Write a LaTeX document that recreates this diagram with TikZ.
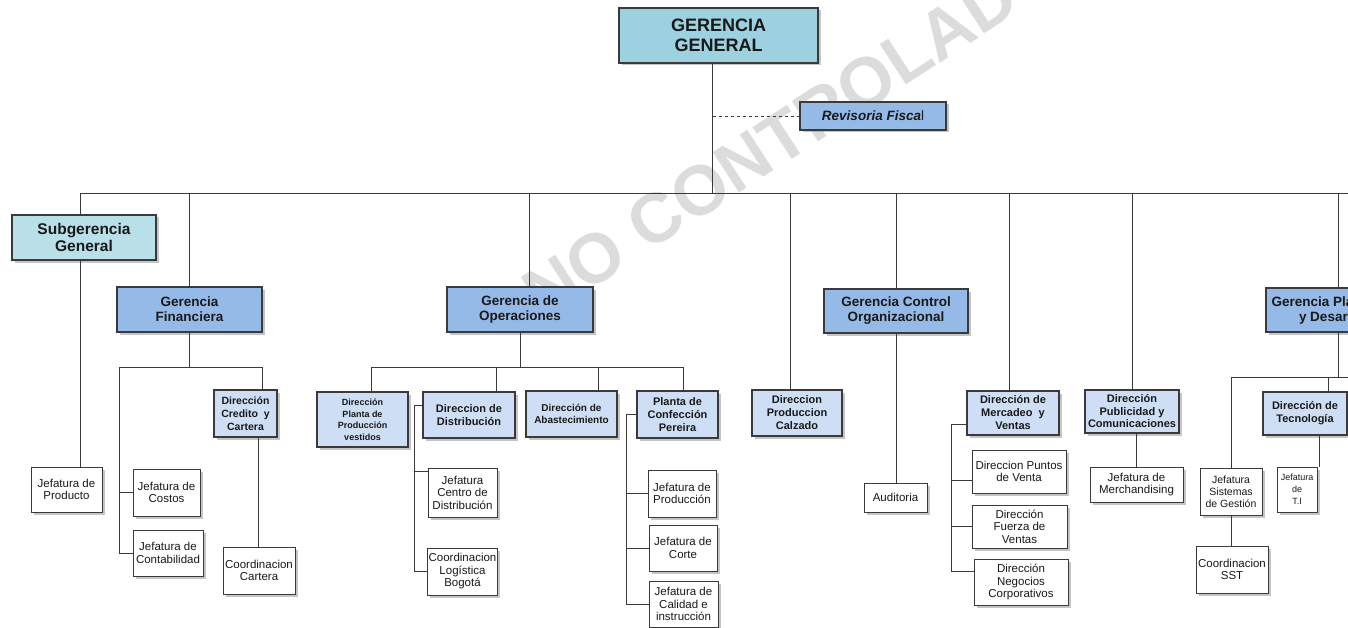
\documentclass[tikz,border=0pt]{standalone}
\usepackage{fontspec}
\setmainfont{Liberation Sans}
\usetikzlibrary{shadows}
\definecolor{OrgCyan}{HTML}{9DD1DF}
\definecolor{OrgCyanLight}{HTML}{B9DFE9}
\definecolor{OrgBlue}{HTML}{95BAE8}
\definecolor{OrgPale}{HTML}{CEDFF5}
\definecolor{OrgLine}{HTML}{3A3A3A}
\definecolor{OrgMark}{HTML}{DCDCDC}

\begin{document}
\begin{tikzpicture}[x=1pt, y=-1pt,
  unit/.style={draw=OrgLine, line width=1.1pt, align=center, inner sep=1pt,
               text=black!90,
               drop shadow={shadow xshift=2.5pt, shadow yshift=-2.5pt, fill=black!45}},
  headbox/.style={unit, fill=OrgCyan, line width=1.6pt,
                  font=\bfseries\fontsize{18}{20}\selectfont},
  subbox/.style={unit, fill=OrgCyanLight, line width=1.3pt,
                 font=\bfseries\fontsize{15.5}{17.5}\selectfont},
  gerbox/.style={unit, fill=OrgBlue, line width=1.3pt,
                 font=\bfseries\fontsize{13.5}{15}\selectfont},
  dirbox/.style={unit, fill=OrgPale, line width=1.2pt,
                 font=\bfseries\fontsize{11}{13}\selectfont},
  jefbox/.style={unit, fill=white, line width=1pt,
                 font=\fontsize{11.5}{12.5}\selectfont},
  tree/.style={draw=OrgLine, line width=0.9pt},
  watermark/.style={text=OrgMark, font=\bfseries\fontsize{70}{70}\selectfont}
]
\useasboundingbox (0,0) rectangle (1348,628);
\clip (0,0) rectangle (1348,628);

% watermark
\node[watermark, rotate=33] (wm) at (793,130) {NO CONTROLADO};

% top level
\node[headbox, minimum width=199pt, minimum height=55pt] (gg) at (718.5,35.5) {GERENCIA\\GENERAL};
\node[gerbox, minimum width=146pt, minimum height=28pt,
      font=\bfseries\itshape\fontsize{13.5}{15}\selectfont] (rf) at (873,116)
  {Revisoria Fisca{\upshape\mdseries l}};

% second level
\node[subbox, minimum width=144pt, minimum height=45pt] (sub) at (84,237.5) {Subgerencia\\General};
\node[gerbox, minimum width=145pt, minimum height=45pt] (fin) at (189.5,309.5) {Gerencia\\Financiera};
\node[gerbox, minimum width=146pt, minimum height=45pt] (ops) at (520,309.5) {Gerencia de\\Operaciones};
\node[gerbox, minimum width=144pt, minimum height=44pt] (ctl) at (896,311) {Gerencia Control\\Organizacional};
\node[gerbox, minimum width=144pt, minimum height=44pt] (gpd) at (1338,310) {Gerencia Planeación\\y Desarrollo};

% direcciones
\node[dirbox, minimum width=63pt, minimum height=47pt,
      font=\bfseries\fontsize{10.5}{13}\selectfont] (cred) at (245.5,413.5) {Dirección\\Credito \ y\\Cartera};
\node[dirbox, minimum width=91pt, minimum height=55pt,
      font=\bfseries\fontsize{9}{11.5}\selectfont] (vest) at (362.5,419.5) {Dirección\\Planta de\\Producción\\vestidos};
\node[dirbox, minimum width=92pt, minimum height=46pt] (dist) at (469,415) {Direccion de\\Distribución};
\node[dirbox, minimum width=91pt, minimum height=46pt,
      font=\bfseries\fontsize{10}{12}\selectfont] (abas) at (571.5,414) {Dirección de\\Abastecimiento};
\node[dirbox, minimum width=81pt, minimum height=47pt] (plc) at (677.5,414.5) {Planta de\\Confección\\Pereira};
\node[dirbox, minimum width=90pt, minimum height=46pt] (calz) at (797,413) {Direccion\\Produccion\\Calzado};
\node[dirbox, minimum width=92pt, minimum height=44pt] (mer) at (1013,413) {Dirección de\\Mercadeo \ y\\Ventas};
\node[dirbox, minimum width=94pt, minimum height=43pt,
      font=\bfseries\fontsize{11}{12.5}\selectfont] (pub) at (1132,411.5) {Dirección\\Publicidad y\\Comunicaciones};
\node[dirbox, minimum width=84pt, minimum height=43pt] (tec) at (1305,413.5) {Dirección de\\Tecnología};

% jefaturas y coordinaciones
\node[jefbox, minimum width=71pt, minimum height=45pt] (prod) at (66.5,489.5) {Jefatura de\\Producto};
\node[jefbox, minimum width=67pt, minimum height=47pt] (cos) at (166.5,492.5) {Jefatura de\\Costos};
\node[jefbox, minimum width=70pt, minimum height=46pt] (cont) at (168,553) {Jefatura de\\Contabilidad};
\node[jefbox, minimum width=72pt, minimum height=47pt] (cart) at (259,570.5) {Coordinacion\\Cartera};
\node[jefbox, minimum width=69pt, minimum height=49pt] (jcd) at (462.5,492.5) {Jefatura\\Centro de\\Distribución};
\node[jefbox, minimum width=69pt, minimum height=47pt] (clb) at (462.5,571.5) {Coordinacion\\Logística\\Bogotá};
\node[jefbox, minimum width=68pt, minimum height=47pt] (jpr) at (682,493.5) {Jefatura de\\Producción};
\node[jefbox, minimum width=68pt, minimum height=46pt] (jco) at (683,548) {Jefatura de\\Corte};
\node[jefbox, minimum width=69pt, minimum height=46pt] (jca) at (683.5,604) {Jefatura de\\Calidad e\\instrucción};
\node[jefbox, minimum width=63pt, minimum height=29pt] (aud) at (895.5,497.5) {Auditoria};
\node[jefbox, minimum width=94pt, minimum height=43pt] (pun) at (1019,471.5) {Direccion Puntos\\de Venta};
\node[jefbox, minimum width=95pt, minimum height=43pt] (fue) at (1019.5,526.5) {Dirección\\Fuerza de\\Ventas};
\node[jefbox, minimum width=94pt, minimum height=46pt] (neg) at (1021,582) {Dirección\\Negocios\\Corporativos};
\node[jefbox, minimum width=93pt, minimum height=35pt] (mch) at (1136.5,484.5) {Jefatura de\\Merchandising};
\node[jefbox, minimum width=62pt, minimum height=47pt,
      font=\fontsize{10.5}{12}\selectfont] (sis) at (1231,491.5) {Jefatura\\Sistemas\\de Gestión};
\node[jefbox, minimum width=40pt, minimum height=45pt,
      font=\fontsize{9}{12}\selectfont] (ti) at (1297,489.5) {Jefatura\\de\\T.I};
\node[jefbox, minimum width=72pt, minimum height=47pt] (sst) at (1232,569.5) {Coordinacion\\SST};

% bars and drop points
\coordinate (bus) at (0,193);
\coordinate (busend) at (1360,193);
\coordinate (lowbar) at (0,367);
\coordinate (gpdbar) at (0,377);
\coordinate (gpdend) at (1360,377);
\coordinate (ggd) at ([xshift=-6pt]gg.south);
\coordinate (subd) at ([xshift=-4pt]sub.north);
\coordinate (opsd) at ([xshift=9pt]ops.north);
\coordinate (calzd) at ([xshift=-7pt]calz.north);
\coordinate (merd) at ([xshift=-4pt]mer.north);
\coordinate (finl) at ([xshift=-70pt]fin.south |- lowbar);
\coordinate (finr) at ([xshift=16.5pt]cred.north |- lowbar);
\coordinate (credd) at ([xshift=12.5pt]cred.south);
\coordinate (vestd) at ([xshift=8.5pt]vest.north);
\coordinate (distd) at ([xshift=27pt]dist.north);
\coordinate (abasd) at ([xshift=26.5pt]abas.north);
\coordinate (plcd) at ([xshift=5.5pt]plc.north);
\coordinate (distk) at ([xshift=-8pt,yshift=10pt]dist.west);
\coordinate (plck) at ([xshift=-10pt]plc.west);
\coordinate (merk) at ([xshift=-15pt,yshift=-11pt]mer.west);
\coordinate (tecd) at ([xshift=23pt]tec.north);
\coordinate (tecs) at ([xshift=14pt]tec.south);

% top connectors
\draw[tree] (gg.south -| ggd) -- (ggd |- bus);
\draw[tree, dashed] (ggd |- rf.west) -- (rf.west);
\draw[tree] (subd |- bus) -- (busend);
\foreach \n in {subd, fin.north, opsd, calzd, ctl.north, merd, pub.north, gpd.north}
  \draw[tree] (\n |- bus) -- (\n);

% Subgerencia
\draw[tree] (sub.south -| subd) -- (subd |- prod.north);

% Financiera
\draw[tree] (fin.south) -- (fin.south |- lowbar);
\draw[tree] (finl) -- (finr) -- (finr |- cred.north);
\draw[tree] (finl) |- (cont.west);
\draw[tree] (finl |- cos.west) -- (cos.west);
\draw[tree] (credd) -- (credd |- cart.north);

% Operaciones
\draw[tree] (ops.south) -- (ops.south |- lowbar);
\draw[tree] (vestd |- lowbar) -- (plcd |- lowbar);
\foreach \n in {vestd, distd, abasd, plcd}
  \draw[tree] (\n |- lowbar) -- (\n);
\draw[tree] ([yshift=10pt]dist.west) -- (distk) |- (clb.west);
\draw[tree] (distk |- jcd.north) ++(0,4) coordinate (jcdt) -- (jcdt -| jcd.west);
\draw[tree] (plc.west) -- (plck) |- (jca.west);
\draw[tree] (plck |- jpr.west) -- (jpr.west);
\draw[tree] (plck |- jco.west) -- (jco.west);

% Control Organizacional
\draw[tree] (ctl.south) -- (ctl.south |- aud.north);

% Mercadeo y Publicidad
\draw[tree] ([yshift=-11pt]mer.west) -- (merk) |- ([yshift=11pt]neg.west);
\draw[tree] (merk |- pun.west) ++(0,8.5) coordinate (punt) -- (punt -| pun.west);
\draw[tree] (merk |- fue.west) -- (fue.west);
\draw[tree] (mch.north |- pub.south) -- (mch.north);

% Planeacion y Desarrollo
\draw[tree] (gpd.south) -- (gpd.south |- gpdbar);
\draw[tree] (sis.north |- gpdbar) -- (gpdend);
\draw[tree] (sis.north |- gpdbar) -- (sis.north);
\draw[tree] (tecd |- gpdbar) -- (tecd);
\draw[tree] (tecs) -- (tecs |- ti.north);
\draw[tree] (sis.south) -- (sis.south |- sst.north);
\end{tikzpicture}
\end{document}
